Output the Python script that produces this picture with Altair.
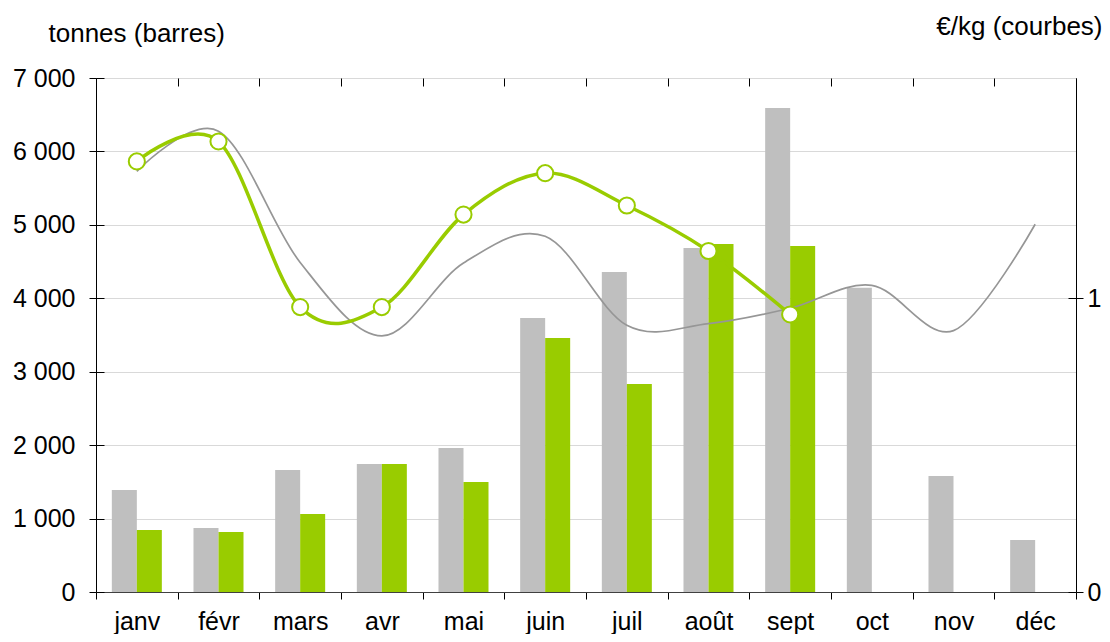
import altair as alt
import pandas as pd

months = ['janv', 'févr', 'mars', 'avr', 'mai', 'juin', 'juil', 'août', 'sept', 'oct', 'nov', 'déc']
tonnes_prev = [1389, 872, 1661, 1743, 1961, 3731, 4358, 4685, 6591, 4144, 1580, 708]
tonnes_cur = [844, 817, 1062, 1743, 1498, 3459, 2833, 4739, 4712]
price_prev = [1.432, 1.569, 1.122, 0.872, 1.12, 1.211, 0.908, 0.914, 0.966, 1.044, 0.89, 1.252]
price_cur = [1.466, 1.534, 0.970, 0.970, 1.285, 1.426, 1.316, 1.161, 0.945]
left_ticks = [0, 1000, 2000, 3000, 4000, 5000, 6000, 7000]
right_ticks = [0, 1]
series = ['prev', 'cur']
bar_colors = ['#BFBFBF', '#99CC00']

bar_rows = [{'mois': m, 'serie': 'prev', 'tonnes': v} for m, v in zip(months, tonnes_prev)]
bar_rows += [{'mois': m, 'serie': 'cur', 'tonnes': v} for m, v in zip(months, tonnes_cur)]
bar_df = pd.DataFrame(bar_rows)
prev_df = pd.DataFrame({'mois': months, 'prix': price_prev})
cur_df = pd.DataFrame({'mois': months[:len(price_cur)], 'prix': price_cur})

FONT = 'Liberation Sans'
x_scale = alt.Scale(type='band', domain=months, paddingInner=0, paddingOuter=0)
y_left_scale = alt.Scale(domain=[0, 7000], nice=False, zero=True)
y_right_scale = alt.Scale(domain=[0, 1.75], nice=False, zero=True)

x_axis_main = alt.Axis(tickBand='extent', tickSize=7, tickColor='black', domainColor='#404040',
                       labelFontSize=25, labelColor='black', labelPadding=10, labelAngle=0,
                       labelFont=FONT, grid=False, labelOverlap=False)
x_axis_inner = alt.Axis(tickBand='extent', tickSize=8, tickColor='black', domain=False,
                        labels=False, grid=False, offset=-8)
y_axis_main = alt.Axis(values=left_ticks, labelExpr="replace(format(datum.value, ','), ',', ' ')",
                       tickSize=7, tickColor='black', domainColor='black', labelFontSize=25,
                       labelColor='black', labelPadding=14, labelFont=FONT, grid=True,
                       gridColor='#D9D9D9', gridWidth=1.2,
                       title='tonnes (barres)', titleAngle=0, titleAlign='left',
                       titleBaseline='middle', titleX=-48, titleY=-45, titleFontSize=26,
                       titleFontWeight='normal', titleColor='black', titleFont=FONT)
y_axis_inner = alt.Axis(values=left_ticks, tickSize=8, tickColor='black', domain=False,
                        labels=False, grid=False, offset=-8, orient='left')
y_right_main = alt.Axis(orient='right', values=right_ticks, tickSize=7, tickColor='black',
                        domainColor='black', labelFontSize=25, labelColor='black', labelPadding=4,
                        labelFont=FONT, grid=False, format='d',
                        title='€/kg (courbes)', titleAngle=0, titleAlign='right',
                        titleBaseline='middle', titleX=26, titleY=-52, titleFontSize=26,
                        titleFontWeight='normal', titleColor='black', titleFont=FONT)
y_right_inner = alt.Axis(orient='right', values=right_ticks, tickSize=8, tickColor='black',
                         domain=False, labels=False, grid=False, offset=-8)

bars = alt.Chart(bar_df).mark_bar().encode(
    x=alt.X('mois:N', scale=x_scale, axis=x_axis_main, title=None),
    xOffset=alt.XOffset('serie:N', scale=alt.Scale(domain=series, paddingInner=0, paddingOuter=0.633)),
    y=alt.Y('tonnes:Q', scale=y_left_scale, axis=y_axis_main),
    color=alt.Color('serie:N', scale=alt.Scale(domain=series, range=bar_colors), legend=None),
)
bars_helper = alt.Chart(bar_df).mark_bar(opacity=0).encode(
    x=alt.X('mois:N', scale=x_scale, axis=x_axis_inner, title=None),
    y=alt.Y('tonnes:Q', scale=y_left_scale, axis=y_axis_inner, title=None),
)
left_group = alt.layer(bars, bars_helper).resolve_axis(x='independent', y='independent')

gray_line = alt.Chart(prev_df).mark_line(interpolate='cardinal', color='#969696', strokeWidth=1.7).encode(
    x=alt.X('mois:N', scale=x_scale, axis=None),
    y=alt.Y('prix:Q', scale=y_right_scale, axis=y_right_main),
)
green_line = alt.Chart(cur_df).mark_line(interpolate='cardinal', color='#99CC00', strokeWidth=3.5).encode(
    x=alt.X('mois:N', scale=x_scale, axis=None),
    y=alt.Y('prix:Q', scale=y_right_scale, axis=None),
)
green_pts = alt.Chart(cur_df).mark_point(shape='circle', filled=True, fill='white', stroke='#99CC00',
                                          strokeWidth=2, size=260, opacity=1).encode(
    x=alt.X('mois:N', scale=x_scale, axis=None),
    y=alt.Y('prix:Q', scale=y_right_scale, axis=None),
)
right_helper = alt.Chart(prev_df).mark_point(opacity=0).encode(
    x=alt.X('mois:N', scale=x_scale, axis=None),
    y=alt.Y('prix:Q', scale=y_right_scale, axis=y_right_inner, title=None),
)
right_group = alt.layer(gray_line, green_line, green_pts, right_helper).resolve_axis(y='independent')

chart = alt.layer(left_group, right_group).resolve_scale(y='independent').resolve_axis(
    x='independent', y='independent'
).properties(
    width=980, height=514, autosize='none',
    padding={'left': 88, 'top': 70, 'right': 26, 'bottom': 42},
).configure(font=FONT).configure_view(stroke=None)

chart.save('out.html', embed_options={'renderer': 'svg', 'actions': False})
